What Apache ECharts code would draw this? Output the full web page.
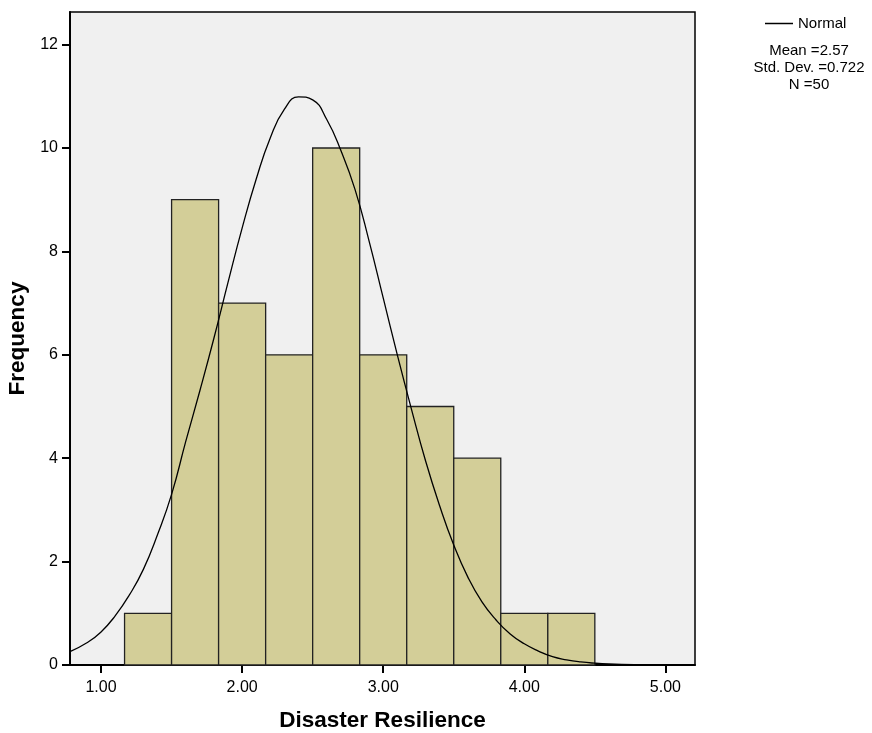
<!DOCTYPE html>
<html>
<head>
<meta charset="utf-8">
<script src="https://cdn.jsdelivr.net/npm/echarts@6/dist/echarts.min.js"></script>
<style>
  html, body { margin: 0; padding: 0; background: #fff; }
  #main { width: 872px; height: 733px; }
</style>
</head>
<body>
<div id="main"></div>
<script>
// histogram bins
var binStart = [1.1667, 1.5, 1.8333, 2.1667, 2.5, 2.8333, 3.1667, 3.5, 3.8333, 4.1667];
var binEnd   = [1.5, 1.8333, 2.1667, 2.5, 2.8333, 3.1667, 3.5, 3.8333, 4.1667, 4.5];
var counts   = [1, 9, 7, 6, 10, 6, 5, 4, 1, 1];

// normal curve
var curveX = [0.78, 0.9, 1.0, 1.1, 1.2, 1.3, 1.4, 1.5, 1.6, 1.7, 1.8, 1.9, 2.0, 2.1, 2.2, 2.3, 2.4,
              2.5, 2.6, 2.7, 2.8, 2.9, 3.0, 3.1, 3.2, 3.3, 3.4, 3.5, 3.6, 3.7, 3.8, 3.9, 4.0,
              4.1, 4.2, 4.3, 4.4, 4.5, 4.6, 4.8, 5.0, 5.21];
var curveY = [0.26, 0.43, 0.64, 0.95, 1.35, 1.85, 2.52, 3.3, 4.32, 5.3, 6.32, 7.4, 8.45, 9.4, 10.2, 10.75, 10.99,
              10.93, 10.55, 9.95, 9.2, 8.2, 7.1, 6.0, 4.95, 3.95, 3.08, 2.32, 1.7, 1.22, 0.87, 0.6, 0.41,
              0.27, 0.16, 0.1, 0.06, 0.035, 0.02, 0.006, 0.001, 0.0];

var xTicks = [1, 2, 3, 4, 5];
var yTicks = [0, 2, 4, 6, 8, 10, 12];
var stats = ['Mean =2.57', 'Std. Dev. =0.722', 'N =50'];

var chart = echarts.init(document.getElementById('main'));

var barData = binStart.map(function (s, i) { return [s, binEnd[i], counts[i]]; });
var lineData = curveX.map(function (x, i) { return [x, curveY[i]]; });

var font = 'Arial, "Liberation Sans", sans-serif';

var option = {
  animation: false,
  textStyle: { fontFamily: font },
  grid: {
    left: 70, right: 177, top: 12, bottom: 68,
    outerBoundsMode: 'none', containLabel: false,
    show: true, backgroundColor: '#f0f0f0', borderColor: '#000', borderWidth: 1.5
  },
  legend: {
    left: 765, top: 16, padding: 0,
    itemWidth: 28, itemHeight: 1.5, itemGap: 4,
    data: [{ name: 'Normal', icon: 'rect' }],
    textStyle: { fontSize: 15, color: '#000', fontFamily: font }
  },
  graphic: stats.map(function (t, i) {
    return {
      type: 'text', x: 809, y: 51 + i * 17,
      style: { text: t, fontSize: 15, fontFamily: font, fill: '#000', align: 'center', verticalAlign: 'middle' }
    };
  }),
  xAxis: {
    type: 'value', min: 0.78, max: 5.21,
    name: 'Disaster Resilience', nameLocation: 'middle', nameGap: 44,
    nameTextStyle: { fontSize: 22.5, fontWeight: 'bold', color: '#000', fontFamily: font },
    axisLine: { lineStyle: { color: '#000', width: 2 } },
    axisTick: { customValues: xTicks, length: 8, lineStyle: { color: '#000', width: 2 } },
    axisLabel: {
      customValues: xTicks, fontSize: 16, color: '#000', margin: 15,
      formatter: function (v) { return v.toFixed(2); }
    },
    splitLine: { show: false }
  },
  yAxis: {
    type: 'value', min: 0, max: 12.63,
    name: 'Frequency', nameLocation: 'middle', nameGap: 33, nameRotate: 90,
    nameTextStyle: { fontSize: 22.5, fontWeight: 'bold', color: '#000', fontFamily: font },
    axisLine: { show: true, lineStyle: { color: '#000', width: 2 } },
    axisTick: { show: true, customValues: yTicks, length: 8, lineStyle: { color: '#000', width: 2 } },
    axisLabel: { customValues: yTicks, fontSize: 16, color: '#000', margin: 12 },
    splitLine: { show: false }
  },
  series: [
    {
      type: 'custom',
      name: 'Frequency',
      data: barData,
      encode: { x: [0, 1], y: 2 },
      renderItem: function (params, api) {
        var p0 = api.coord([api.value(0), api.value(2)]);
        var p1 = api.coord([api.value(1), 0]);
        return {
          type: 'rect',
          shape: { x: p0[0], y: p0[1], width: p1[0] - p0[0], height: p1[1] - p0[1] },
          style: { fill: '#d3ce98', stroke: '#222', lineWidth: 1.3 }
        };
      }
    },
    {
      type: 'line',
      name: 'Normal',
      data: lineData,
      smooth: 0.5,
      showSymbol: false,
      symbol: 'none',
      lineStyle: { color: '#000', width: 1.3 },
      itemStyle: { color: '#000' },
      z: 5
    }
  ]
};

chart.setOption(option);
</script>
</body>
</html>
